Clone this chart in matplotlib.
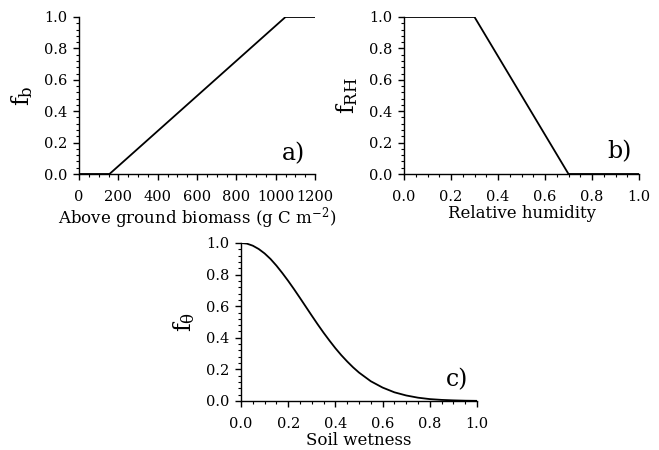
import matplotlib
matplotlib.use("Agg")
import matplotlib.pyplot as plt
from matplotlib.ticker import MultipleLocator

plt.rcParams['font.family'] = ['DejaVu Serif']
plt.rcParams['mathtext.fontset'] = 'dejavuserif'

# Panel a: biomass function
biomass = [0, 155, 1050, 1200]
f_b = [0.0, 0.0, 1.0, 1.0]

# Panel b: relative humidity function
rh = [0.0, 0.3, 0.7, 1.0]
f_rh = [1.0, 1.0, 0.0, 0.0]

# Panel c: soil wetness function
wetness = [0.0, 0.025, 0.05, 0.075, 0.1, 0.125, 0.15, 0.175, 0.2, 0.225, 0.25,
           0.275, 0.3, 0.325, 0.35, 0.375, 0.4, 0.425, 0.45, 0.475, 0.5,
           0.55, 0.6, 0.65, 0.7, 0.75, 0.8, 0.85, 0.9, 0.95, 1.0]
f_theta = [1.0, 0.996, 0.983, 0.962, 0.934, 0.899, 0.857, 0.810, 0.760, 0.707, 0.652,
           0.596, 0.540, 0.485, 0.432, 0.382, 0.334, 0.290, 0.250, 0.213, 0.180,
           0.125, 0.085, 0.055, 0.035, 0.021, 0.012, 0.007, 0.004, 0.002, 0.001]

W, H = 659, 450
fig = plt.figure(figsize=(W / 100, H / 100), dpi=100)

def make_ax(l, r, t, b):
    return fig.add_axes([l / W, 1 - b / H, (r - l) / W, (b - t) / H])

ax_a = make_ax(79, 315, 17, 174)
ax_b = make_ax(404, 639, 17, 174)
ax_c = make_ax(241, 477, 243, 401)

def style(ax, xmaj, xmin, xlim, xticks_fmt):
    ax.set_ylim(0, 1)
    ax.set_xlim(*xlim)
    ax.spines['top'].set_visible(False)
    ax.spines['right'].set_visible(False)
    ax.yaxis.set_major_locator(MultipleLocator(0.2))
    ax.yaxis.set_minor_locator(MultipleLocator(0.04))
    ax.xaxis.set_major_locator(MultipleLocator(xmaj))
    ax.xaxis.set_minor_locator(MultipleLocator(xmin))
    ax.tick_params(which='major', direction='out', length=4.5, width=1.0, labelsize=10.5, pad=4)
    ax.tick_params(axis='x', which='major', pad=7)
    ax.tick_params(which='minor', direction='out', length=2.5, width=0.8)
    ax.yaxis.set_major_formatter(plt.FormatStrFormatter('%.1f'))
    ax.xaxis.set_major_formatter(plt.FormatStrFormatter(xticks_fmt))
    for s in ('left', 'bottom'):
        ax.spines[s].set_linewidth(1.0)

ax_a.plot(biomass, f_b, color='black', lw=1.3)
style(ax_a, 200, 50, (0, 1200), '%d')
ax_a.set_xlabel(r'Above ground biomass (g C m$^{-2}$)', fontsize=12, labelpad=1)
ax_a.set_ylabel(r'$\mathregular{f_b}$', fontsize=17, labelpad=6)
ax_a.text(0.91, 0.13, 'a)', transform=ax_a.transAxes, fontsize=17, ha='center', va='center')

ax_b.plot(rh, f_rh, color='black', lw=1.3)
style(ax_b, 0.2, 0.05, (0, 1), '%.1f')
ax_b.set_xlabel('Relative humidity', fontsize=12, labelpad=1)
ax_b.set_ylabel(r'$\mathregular{f_{RH}}$', fontsize=17, labelpad=6)
ax_b.text(0.915, 0.14, 'b)', transform=ax_b.transAxes, fontsize=17, ha='center', va='center')

ax_c.plot(wetness, f_theta, color='black', lw=1.3)
style(ax_c, 0.2, 0.05, (0, 1), '%.1f')
ax_c.set_xlabel('Soil wetness', fontsize=12, labelpad=1)
ax_c.set_ylabel(r'$\mathregular{f_{\theta}}$', fontsize=17, labelpad=6)
ax_c.text(0.915, 0.133, 'c)', transform=ax_c.transAxes, fontsize=17, ha='center', va='center')

fig.savefig('out.png', dpi=100)
